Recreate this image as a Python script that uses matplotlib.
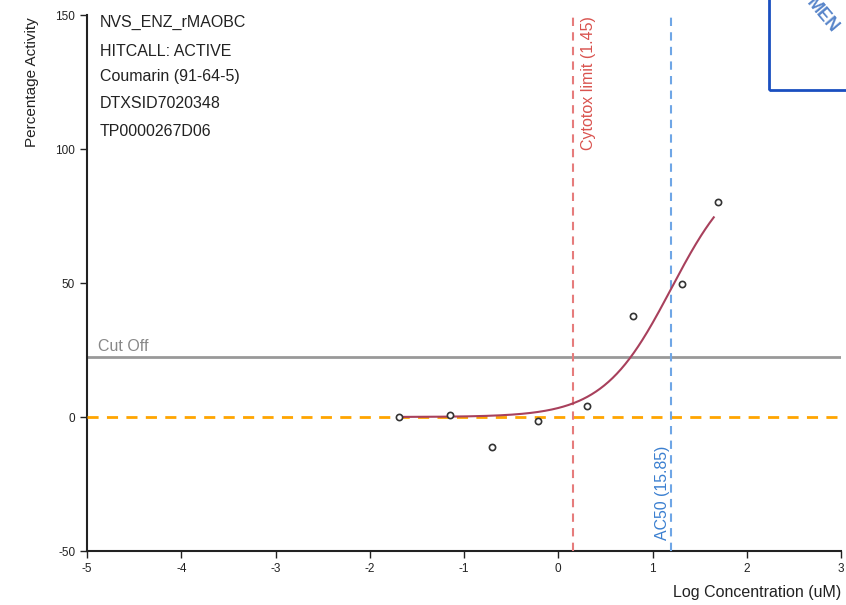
import numpy as np
import matplotlib
matplotlib.use("Agg")
import matplotlib.pyplot as plt
from matplotlib.patches import Rectangle

plt.rcParams['font.family'] = ['Liberation Sans', 'DejaVu Sans']
plt.rcParams['axes.unicode_minus'] = False

# data
log_conc = [-1.69, -1.15, -0.70, -0.22, 0.31, 0.79, 1.31, 1.70]
activity = [0.0, 0.7, -11.2, -1.5, 4.1, 37.7, 49.6, 80.2]
hill_top = 96.0
hill_n = 1.2
ac50 = 15.85
cytotox = 1.45
cutoff = 22.5
info_lines = ["NVS_ENZ_rMAOBC", "HITCALL: ACTIVE", "Coumarin (91-64-5)", "DTXSID7020348", "TP0000267D06"]
xticks = [-5, -4, -3, -2, -1, 0, 1, 2, 3]
yticks = [-50, 0, 50, 100, 150]

fig = plt.figure(figsize=(8.46, 6.05), dpi=100)
ax = fig.add_axes([87/846, 1-551/605, (841-87)/846, (551-15)/605])
ax.set_xlim(-5, 3)
ax.set_ylim(-50, 150)

# cutoff
ax.axhline(cutoff, color='#999999', lw=2, zorder=2)
ax.text(-4.88, cutoff + 1.0, "Cut Off", color='#888888', fontsize=11.5, va='bottom', ha='left')
# zero line
ax.axhline(0, color='#FFA500', lw=2, ls=(0, (4, 3)), zorder=3)

# curve
xc = np.linspace(log_conc[0], 1.65, 300)
yc = hill_top / (1 + 10 ** (hill_n * (np.log10(ac50) - xc)))
ax.plot(xc, yc, color='#a8405c', lw=1.5, zorder=4)

# cytotox line
lc = np.log10(cytotox)
ax.axvline(lc, color='#e67c7c', lw=1.5, ls=(0, (4, 3)), zorder=3)
ax.text(lc + 0.08, 149.5, f"Cytotox limit ({cytotox})", rotation=90, color='#d9534f',
        fontsize=11.5, ha='left', va='top')
# AC50 line
la = np.log10(ac50)
ax.axvline(la, color='#6fa6e6', lw=1.5, ls=(0, (4, 3)), zorder=3)
ax.text(la - 0.17, -46, f"AC50 ({ac50})", rotation=90, color='#3a7fd0',
        fontsize=11.4, ha='left', va='bottom')

# points
ax.scatter(log_conc, activity, s=20, facecolor='white', edgecolor='#333333', lw=1.2, zorder=5)

# info text
info_y = [22, 51, 77, 104, 131]
for yy, t in zip(info_y, info_lines):
    ax.text(100/846, 1 - yy/605, t, transform=fig.transFigure, fontsize=11.5,
            color='#222222', va='center', ha='left')

ax.set_xticks(xticks)
ax.set_yticks(yticks)
ax.tick_params(labelsize=8.5, length=5, width=1, colors='#222222')
for s in ['top', 'right']:
    ax.spines[s].set_visible(False)
for s in ['left', 'bottom']:
    ax.spines[s].set_linewidth(1.5)
    ax.spines[s].set_color('#222222')

fig.text(32/846, 1 - 82/605, "Percentage Activity", rotation=90, fontsize=11,
         ha='center', va='center', color='#222222')
fig.text(841/846, 1 - 593/605, "Log Concentration (uM)", fontsize=11.5,
         ha='right', va='center', color='#222222')

# logo box top-right (partially visible logo)
fig.patches.append(Rectangle((769/846, 1 - 90/605), 80/846, 92/605, transform=fig.transFigure,
                             fill=False, edgecolor='#1a4fc0', lw=2))
fig.text(822/846, 1 - 16/605, "MEN", rotation=-50, fontsize=13, fontweight='bold',
         color='#3a6fc0', ha='center', va='center', alpha=0.85)

fig.savefig("out.png", dpi=100)
